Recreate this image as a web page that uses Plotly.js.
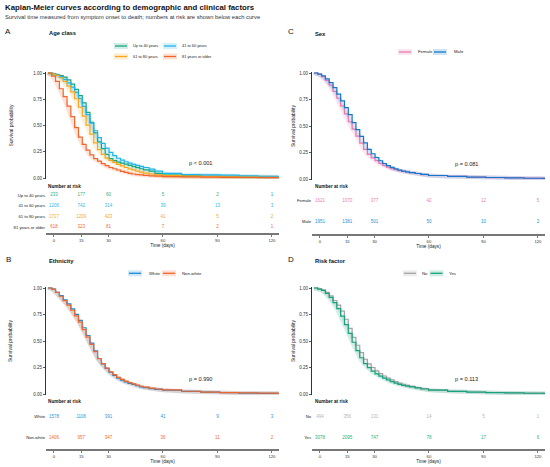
<!DOCTYPE html>
<html><head><meta charset="utf-8">
<script src="https://cdn.plot.ly/plotly-3.0.1.min.js"></script>
<style>html,body{margin:0;padding:0;background:#fff}#chart{width:550px;height:467px}</style>
</head><body><div id="chart"></div>
<script>
// ---------------- DATA ----------------
const days = [0,2,4,6,8,10,12,14,16,18,20,22,24,26,28,30,32,34,36,38,40,42,44,46,48,50,53,56,60,70,80,90,100,110,120,125];
const riskTimes = [0,15,30,60,90,120];

const ageGroups = ['Up to 40 years','41 to 60 years','61 to 80 years','81 years or older'];
const survAge40 = [1,0.995,0.985,0.975,0.96,0.935,0.895,0.845,0.785,0.715,0.625,0.53,0.43,0.345,0.28,0.225,0.185,0.165,0.152,0.142,0.132,0.12,0.108,0.098,0.088,0.078,0.065,0.045,0.028,0.02,0.015,0.012,0.01,0.008,0.005,0.005];
const survAge60 = [1,0.993,0.98,0.965,0.94,0.905,0.865,0.815,0.757,0.683,0.603,0.522,0.45,0.385,0.33,0.284,0.245,0.213,0.188,0.17,0.155,0.142,0.13,0.12,0.11,0.1,0.085,0.065,0.045,0.033,0.03,0.027,0.02,0.015,0.01,0.01];
const survAge80 = [1,0.99,0.978,0.955,0.92,0.875,0.82,0.755,0.675,0.59,0.503,0.418,0.335,0.27,0.225,0.19,0.167,0.148,0.13,0.115,0.1,0.087,0.077,0.066,0.056,0.047,0.038,0.03,0.022,0.017,0.014,0.01,0.008,0.006,0.005,0.005];
const survAge81 = [1,0.97,0.92,0.85,0.775,0.685,0.585,0.48,0.39,0.32,0.265,0.22,0.185,0.16,0.137,0.118,0.1,0.088,0.076,0.064,0.053,0.045,0.038,0.033,0.029,0.025,0.02,0.017,0.013,0.01,0.008,0.006,0.005,0.004,0.003,0.003];
const riskAge40 = [233,177,60,5,2,1];
const riskAge60 = [1206,742,314,39,13,3];
const riskAge80 = [1717,1209,423,41,5,2];
const riskAge81 = [618,323,81,7,2,1];

const ethGroups = ['White','Non-white'];
const survWhite = [1,0.99,0.96,0.928,0.888,0.85,0.803,0.752,0.695,0.625,0.552,0.48,0.408,0.335,0.283,0.242,0.205,0.176,0.15,0.13,0.114,0.101,0.09,0.078,0.068,0.06,0.051,0.044,0.036,0.024,0.017,0.012,0.008,0.006,0.005,0.005];
const survNonWhite = [1,0.99,0.958,0.922,0.88,0.838,0.79,0.737,0.678,0.608,0.537,0.468,0.4,0.333,0.286,0.245,0.21,0.182,0.158,0.138,0.121,0.107,0.095,0.083,0.073,0.064,0.055,0.047,0.038,0.026,0.018,0.013,0.01,0.008,0.006,0.006];
const riskWhite = [1578,1106,391,41,9,3];
const riskNonWhite = [1406,957,347,36,11,2];

const sexGroups = ['Female','Male'];
const survFemale = [1,0.99,0.965,0.93,0.885,0.826,0.762,0.69,0.615,0.54,0.47,0.405,0.338,0.28,0.233,0.2,0.173,0.148,0.128,0.112,0.098,0.088,0.079,0.072,0.066,0.06,0.052,0.042,0.033,0.024,0.018,0.013,0.01,0.008,0.006,0.006];
const survMale = [1,0.99,0.972,0.945,0.91,0.862,0.8,0.737,0.673,0.608,0.532,0.465,0.403,0.34,0.28,0.238,0.203,0.172,0.146,0.126,0.109,0.095,0.084,0.075,0.068,0.061,0.052,0.043,0.033,0.024,0.018,0.014,0.01,0.007,0.005,0.005];
const riskFemale = [1621,1070,377,42,12,5];
const riskMale = [1951,1381,501,50,10,2];

const factorGroups = ['No','Yes'];
const survNo = [1,0.992,0.98,0.958,0.925,0.882,0.838,0.782,0.705,0.62,0.535,0.46,0.39,0.328,0.285,0.25,0.218,0.192,0.17,0.15,0.133,0.117,0.103,0.092,0.082,0.072,0.06,0.05,0.038,0.026,0.019,0.014,0.01,0.008,0.006,0.006];
const survYes = [1,0.99,0.977,0.95,0.912,0.862,0.805,0.734,0.655,0.572,0.488,0.41,0.342,0.287,0.248,0.216,0.19,0.168,0.15,0.133,0.117,0.103,0.091,0.082,0.074,0.067,0.057,0.047,0.036,0.025,0.018,0.013,0.01,0.007,0.005,0.005];
const riskNo = [494,356,131,14,5,1];
const riskYes = [3078,2095,747,78,17,6];

const pValues = ['p < 0.001','p = 0.990','p = 0.081','p = 0.113'];
const panelTitles = ['Age class','Ethnicity','Sex','Risk factor'];
const panelLetters = ['A','B','C','D'];

// ---------------- LAYOUT / STYLE ----------------
const FONT = 'Liberation Sans, Arial, Helvetica, sans-serif';
const W = 550, H = 467;
const fx = p => p / W;
const fy = p => 1 - p / H;

const panels = [
  { groups: ageGroups, surv: [survAge40, survAge60, survAge80, survAge81],
    risk: [riskAge40, riskAge60, riskAge80, riskAge81],
    colors: ['#17a67e','#22b4e8','#f7a51f','#f1652a'],
    numColors: ['#2ab083','#2db7ea','#f7a829','#f26b30'],
    x0: 46, x1: 279, s1: 73, s0: 178, rows: [195.3, 227.3], rTop: 189, rAxis: 233.3,
    letter: [8, 32], title: [46.7, 33.3], nar: [46, 186], ylab: [10, 125.5],
    legFont: 3.9,
    leg: [{sx:114,tx:131,y:46},{sx:163,tx:180,y:46},{sx:114,tx:131,y:56.5},{sx:163,tx:180,y:56.5}] },
  { groups: ethGroups, surv: [survWhite, survNonWhite], risk: [riskWhite, riskNonWhite],
    colors: ['#1c8ad6','#f1652a'], numColors: ['#2a96de','#f26b30'],
    x0: 46, x1: 279, s1: 288, s0: 394, rows: [417, 438], rTop: 405, rAxis: 449,
    letter: [8, 259], title: [46.7, 260.7], nar: [46, 401.5], ylab: [10, 341],
    legFont: 4.3,
    leg: [{sx:128,tx:146.5,y:273.3},{sx:162,tx:180,y:273.3}] },
  { groups: sexGroups, surv: [survFemale, survMale], risk: [riskFemale, riskMale],
    colors: ['#e87aae','#1576cc'], numColors: ['#e97fb1','#2490d9'],
    x0: 312, x1: 545, s1: 73, s0: 179, rows: [201, 222], rTop: 189, rAxis: 234,
    letter: [291, 32], title: [312.7, 34], nar: [312.7, 186], ylab: [293, 126],
    legFont: 4.3,
    leg: [{sx:398,tx:415.5,y:52},{sx:433,tx:451.5,y:52}] },
  { groups: factorGroups, surv: [survNo, survYes], risk: [riskNo, riskYes],
    colors: ['#a3a3a3','#14a37d'], numColors: ['#b5b5b5','#22b286'],
    x0: 312, x1: 545, s1: 288, s0: 394, rows: [417, 438], rTop: 405, rAxis: 449,
    letter: [291, 259], title: [312.7, 260.7], nar: [312.7, 401.5], ylab: [293, 341],
    legFont: 4.3,
    leg: [{sx:403,tx:420,y:273.3},{sx:429.5,tx:446.5,y:273.3}] }
];

const traces = [];
const layout = {
  width: W, height: H,
  margin: {l:0, r:0, t:0, b:0},
  paper_bgcolor: '#fff', plot_bgcolor: 'rgba(0,0,0,0)',
  showlegend: false,
  font: {family: FONT, color: '#222'},
  annotations: [], shapes: []
};

function hexA(hex, a) {
  const n = parseInt(hex.slice(1), 16);
  return `rgba(${(n>>16)&255},${(n>>8)&255},${n&255},${a})`;
}

panels.forEach((P, i) => {
  const sx = 'x' + (2*i+1), sy = 'y' + (2*i+1);
  const rx = 'x' + (2*i+2), ry = 'y' + (2*i+2);
  const span = P.s0 - P.s1;
  // survival axes
  layout['xaxis' + (2*i+1)] = {
    domain: [fx(P.x0), fx(P.x1)], range: [-1, 121], anchor: sy,
    visible: false, fixedrange: true
  };
  layout['yaxis' + (2*i+1)] = {
    domain: [fy(P.s0 + 0.01*span), fy(P.s1 - 0.01*span)], range: [-0.01, 1.01], anchor: sx,
    tickvals: [0, 0.25, 0.5, 0.75, 1], ticktext: ['0.00','0.25','0.50','0.75','1.00'],
    ticks: 'outside', ticklen: 2, tickwidth: 0.8, tickcolor: '#333',
    showline: true, linecolor: '#333', linewidth: 1,
    showgrid: false, zeroline: false,
    tickfont: {size: 4.5, color: '#333', family: FONT}
  };
  // risk table axes
  const n = P.groups.length;
  const d = (P.rows[1] - P.rows[0]) / (n - 1);
  const yLow = 1 - (P.rAxis - P.rows[1]) / d;
  const yHigh = n + (P.rows[0] - P.rTop) / d;
  layout['xaxis' + (2*i+2)] = {
    domain: [fx(P.x0), fx(P.x1)], range: [-4.4, 123.9], anchor: ry,
    tickvals: riskTimes, ticks: 'outside', ticklen: 2, tickwidth: 0.8, tickcolor: '#555',
    showline: true, linecolor: '#777', linewidth: 1.6,
    showgrid: false, zeroline: false,
    tickfont: {size: 4.2, color: '#333', family: FONT},
    title: {text: 'Time (days)', font: {size: 4.7, color: '#222', family: FONT}, standoff: 2}
  };
  layout['yaxis' + (2*i+2)] = {
    domain: [fy(P.rAxis), fy(P.rTop)], range: [yLow, yHigh], anchor: rx,
    tickvals: P.groups.map((g, k) => n - k), ticktext: P.groups,
    ticks: '', showline: false, showgrid: false, zeroline: false,
    tickfont: {size: 4.2, color: '#222', family: FONT}
  };

  P.groups.forEach((g, k) => {
    // light confidence halo
    traces.push({
      x: days, y: P.surv[k], xaxis: sx, yaxis: sy, type: 'scatter', mode: 'lines',
      line: {shape: 'linear', color: hexA(P.colors[k], 0.18), width: 4}, hoverinfo: 'skip'
    });
  });
  P.groups.forEach((g, k) => {
    traces.push({
      x: days, y: P.surv[k], xaxis: sx, yaxis: sy, type: 'scatter', mode: 'lines', name: g,
      line: {shape: 'hv', color: P.colors[k], width: 1.2}
    });
    traces.push({
      x: riskTimes, y: riskTimes.map(() => n - k), text: P.risk[k].map(String),
      xaxis: rx, yaxis: ry, type: 'scatter', mode: 'text', cliponaxis: false,
      textfont: {size: 4.5, color: P.numColors[k], family: FONT}, hoverinfo: 'skip'
    });
    // legend key
    const L = P.leg[k];
    layout.shapes.push({type: 'rect', xref: 'paper', yref: 'paper',
      x0: fx(L.sx), x1: fx(L.sx + 14), y0: fy(L.y + 3), y1: fy(L.y - 3),
      fillcolor: hexA(P.colors[k], 0.2), line: {width: 0}});
    layout.shapes.push({type: 'line', xref: 'paper', yref: 'paper',
      x0: fx(L.sx + 1), x1: fx(L.sx + 13), y0: fy(L.y), y1: fy(L.y),
      line: {color: P.colors[k], width: 1.3}});
    layout.annotations.push({xref: 'paper', yref: 'paper', x: fx(L.tx), y: fy(L.y),
      xanchor: 'left', yanchor: 'middle', showarrow: false, text: g,
      font: {size: P.legFont, color: '#222', family: FONT}});
  });

  // y-axis title of the survival plot
  layout.annotations.push({xref: 'paper', yref: 'paper', x: fx(P.ylab[0]), y: fy(P.ylab[1]),
    xanchor: 'center', yanchor: 'middle', showarrow: false, textangle: -90,
    text: 'Survival probability', font: {size: 5, color: '#222', family: FONT}});
  // p-value
  layout.annotations.push({xref: sx, yref: sy, x: 80, y: 0.145, showarrow: false,
    text: pValues[i], font: {size: 5.6, color: '#222', family: FONT}});
  // panel letter and title
  layout.annotations.push({xref: 'paper', yref: 'paper', x: fx(P.letter[0]), y: fy(P.letter[1]),
    xanchor: 'center', yanchor: 'middle', showarrow: false, text: panelLetters[i],
    font: {size: 8, color: '#111', family: FONT}});
  layout.annotations.push({xref: 'paper', yref: 'paper', x: fx(P.title[0]), y: fy(P.title[1]),
    xanchor: 'left', yanchor: 'middle', showarrow: false, text: panelTitles[i],
    font: {size: 5.8, color: '#111', family: FONT, weight: 'bold'}});
  layout.annotations.push({xref: 'paper', yref: 'paper', x: fx(P.nar[0]), y: fy(P.nar[1]),
    xanchor: 'left', yanchor: 'middle', showarrow: false, text: 'Number at risk',
    font: {size: 4.7, color: '#111', family: FONT, weight: 'bold'}});
});

layout.annotations.push({xref: 'paper', yref: 'paper', x: fx(2.5), y: fy(7),
  xanchor: 'left', yanchor: 'middle', showarrow: false,
  text: 'Kaplan-Meier curves according to demographic and clinical factors',
  font: {size: 7.8, color: '#111', family: FONT, weight: 'bold'}});
layout.annotations.push({xref: 'paper', yref: 'paper', x: fx(2.5), y: fy(16.5),
  xanchor: 'left', yanchor: 'middle', showarrow: false,
  text: 'Survival time measured from symptom onset to death; numbers at risk are shown below each curve',
  font: {size: 5.8, color: '#333', family: FONT}});

Plotly.newPlot('chart', traces, layout, {displayModeBar: false, staticPlot: true});
</script>
</body></html>
